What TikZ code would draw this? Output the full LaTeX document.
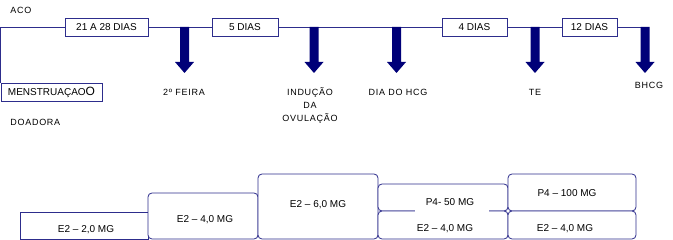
\documentclass[tikz,border=0pt]{standalone}
\usepackage{fontspec}
\setmainfont{Liberation Sans}
\newfontfamily\spacedfont[LetterSpace=8]{Liberation Sans}
\definecolor{lineblue}{RGB}{45,45,140}
\definecolor{arrowblue}{RGB}{0,0,120}
\begin{document}
\begin{tikzpicture}[x=1pt,y=-1pt,line width=0.8pt,
    daybox/.style={draw=lineblue,fill=white,minimum width=#1,minimum height=18pt,inner sep=0pt,font=\fontsize{10}{12}\selectfont},
    event/.style={font=\spacedfont\fontsize{9}{13}\selectfont,inner sep=0pt,align=center},
    dose/.style={draw=lineblue,fill=white},
    dosetext/.style={font=\fontsize{10}{12}\selectfont,inner sep=0pt}]
    \useasboundingbox (0,0) rectangle (673,240);
    % timeline
    \node[daybox=83pt] (d1) at (106.5,27) {21 A 28 DIAS};
    \node[daybox=66pt] (d2) at (245,27) {5 DIAS};
    \node[daybox=65pt] (d3) at (474.5,27) {4 DIAS};
    \node[daybox=55pt] (d4) at (589.5,27) {12 DIAS};
    \node[daybox=101pt] (mens) at (51.5,92) {MENSTRUAÇAO{\large O}};
    \coordinate (a5) at (645,27);
    \draw[lineblue] (mens.north west) |- (d1.west);
    \draw[lineblue] (d1.east) -- (d2.west); \draw[lineblue] (d2.east) -- (d3.west);
    \draw[lineblue] (d3.east) -- (d4.west); \draw[lineblue] (d4.east) -- (a5);
    \foreach \x in {184.5,314,396.5,535,645}
        \fill[arrowblue] (\x-4.5,27) -- (\x-4.5,62) -- (\x-9.5,62) -- (\x,73) -- (\x+9.5,62) -- (\x+4.5,62) -- (\x+4.5,27) -- cycle;
    \node[event,anchor=west] (aco) at (10,10) {ACO};
    \node[event,anchor=west] (doadora) at (10,122) {DOADORA};
    \node[event] (feira) at (184,92) {2º FEIRA};
    \node[event,anchor=north] (inducao) at (310,87) {INDUÇÃO\\DA\\OVULAÇÃO};
    \node[event] (hcg) at (398,92) {DIA DO HCG};
    \node[event] (te) at (535,92) {TE};
    \node[event] (bhcg) at (649,85) {BHCG};
    % dosages
    \draw[dose] (20,212) rectangle (148,239);
    \draw[dose,rounded corners=4pt] (148,193) rectangle (258,239);
    \draw[dose,rounded corners=4pt] (258,174) rectangle (378,239);
    \draw[dose,rounded corners=4pt] (378,184) rectangle (508,211);
    \draw[dose,rounded corners=4pt] (378,211) rectangle (508,239);
    \draw[dose,rounded corners=4pt] (508,174) rectangle (636,211);
    \draw[dose,rounded corners=4pt] (508,211) rectangle (636,239);
    \fill[white] (415,209) rectangle (489,213);
    \node[dosetext] (e2a) at (86,230) {E2 – 2,0 MG};
    \node[dosetext] (e2b) at (205,220) {E2 – 4,0 MG};
    \node[dosetext] (e2c) at (318,205) {E2 – 6,0 MG};
    \node[dosetext] (p4a) at (450,202) {P4- 50 MG};
    \node[dosetext] (e2d) at (445,229) {E2 – 4,0 MG};
    \node[dosetext] (p4b) at (567,193) {P4 – 100 MG};
    \node[dosetext] (e2e) at (565,229) {E2 – 4,0 MG};
\end{tikzpicture}
\end{document}
